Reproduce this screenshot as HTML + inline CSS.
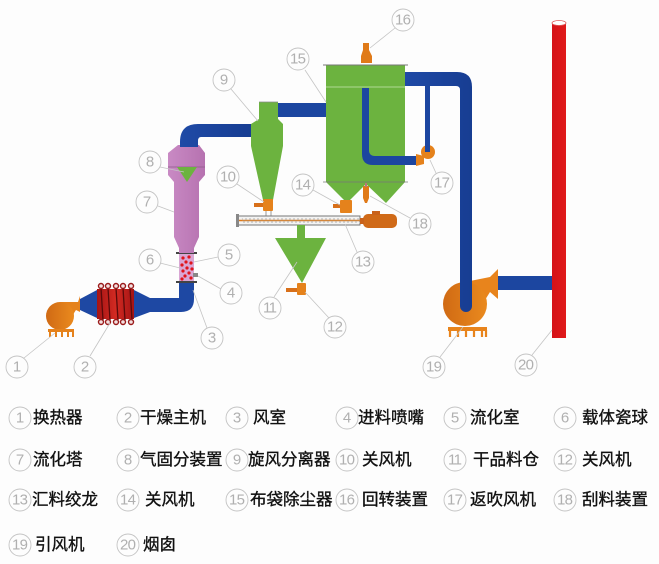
<!DOCTYPE html>
<html><head><meta charset="utf-8"><style>
html,body{margin:0;padding:0;background:#fdfdfd;}
svg{display:block;}
.lc{fill:none;stroke:#c4c4c4;stroke-width:0.9;}
.ln{stroke:#c4c4c4;stroke-width:0.8;}
.nt{font-family:"Liberation Sans",sans-serif;font-size:15px;fill:#b0b0b0;text-anchor:middle;dominant-baseline:central;}
.lt{font-family:"Liberation Sans","Noto Sans CJK SC",sans-serif;font-size:16.5px;fill:#111;stroke:#111;stroke-width:0.35;dominant-baseline:central;}
</style></head><body>
<svg width="659" height="564" viewBox="0 0 659 564" xmlns="http://www.w3.org/2000/svg">
<defs>
<linearGradient id="blu" x1="0" y1="0" x2="1" y2="0"><stop offset="0" stop-color="#1f4aa6"/><stop offset="1" stop-color="#173d92"/></linearGradient>
<linearGradient id="pink" x1="0" y1="0" x2="1" y2="0"><stop offset="0" stop-color="#c98ac4"/><stop offset="1" stop-color="#b672b0"/></linearGradient>
<linearGradient id="ora" x1="0" y1="0" x2="1" y2="0"><stop offset="0" stop-color="#d06a14"/><stop offset="1" stop-color="#ea8a1e"/></linearGradient>
<linearGradient id="hx" x1="0" y1="0" x2="1" y2="0"><stop offset="0" stop-color="#a51414"/><stop offset="0.5" stop-color="#d22a22"/><stop offset="1" stop-color="#a51414"/></linearGradient>
<linearGradient id="chim" x1="0" y1="0" x2="1" y2="0"><stop offset="0" stop-color="#d51218"/><stop offset="1" stop-color="#e01a1a"/></linearGradient>
</defs>
<rect width="659" height="564" fill="#fdfdfd"/>

<!-- Fan 1 -->
<path d="M60,302 L78,302 L80,296 L80,312 L76,310 Q73,314 72,318 Z" fill="#e5821c"/>
<circle cx="60" cy="316" r="14" fill="url(#ora)"/>
<rect x="48" y="329" width="26" height="3" fill="#e5821c"/>
<path d="M50,332v5M56,332v5M62,332v5M68,332v5M73,332v5" stroke="#e5821c" stroke-width="2"/>

<!-- blue cones -->
<polygon points="80,299 97,290 97,318 80,310" fill="#1e48a3"/>
<polygon points="134,290 150,298 150,312 134,318" fill="#1e48a3"/>
<!-- heat exchanger -->
<rect x="97" y="289" width="37" height="30" fill="url(#hx)"/>
<g stroke="#5a0a0a" stroke-width="1.3">
<line x1="101" y1="288" x2="103" y2="320"/><line x1="108" y1="288" x2="110" y2="320"/><line x1="116" y1="288" x2="118" y2="320"/><line x1="123" y1="288" x2="125" y2="320"/><line x1="130" y1="288" x2="132" y2="320"/>
</g>
<g fill="#f3e0e0" stroke="#9a1a1a" stroke-width="1.4">
<circle cx="101" cy="286" r="2.5"/><circle cx="108" cy="286" r="2.5"/><circle cx="116" cy="286" r="2.5"/><circle cx="123" cy="286" r="2.5"/><circle cx="131" cy="286" r="2.5"/>
<circle cx="101" cy="322" r="2.5"/><circle cx="108" cy="322" r="2.5"/><circle cx="116" cy="322" r="2.5"/><circle cx="123" cy="322" r="2.5"/><circle cx="131" cy="322" r="2.5"/>
</g>

<!-- blue pipe to wind chamber -->
<path d="M150,298 L179,298 L179,282 L194,282 L194,299 Q194,312 181,312 L150,312 Z" fill="#1e48a3"/>
<!-- chamber with balls -->
<rect x="179" y="253" width="15" height="29" fill="#d9a6d4"/>
<g fill="#e0141c">
<circle cx="183" cy="258" r="1.6"/><circle cx="189" cy="257" r="1.6"/><circle cx="186" cy="262" r="1.6"/><circle cx="191" cy="263" r="1.6"/><circle cx="182" cy="265" r="1.6"/><circle cx="187" cy="268" r="1.6"/><circle cx="192" cy="269" r="1.6"/><circle cx="183" cy="271" r="1.6"/><circle cx="189" cy="273" r="1.6"/><circle cx="185" cy="276" r="1.6"/><circle cx="191" cy="278" r="1.6"/><circle cx="182" cy="279" r="1.6"/>
</g>
<rect x="176" y="252" width="21" height="2" fill="#444"/>
<rect x="176" y="281" width="21" height="2" fill="#444"/>
<rect x="193" y="273" width="5" height="4" fill="#888"/>

<!-- tower 7 -->
<polygon points="178,145 199,145 205,153 205,175 199,182 199,237 194,248 194,253 179,253 179,248 174,237 174,182 168,175 168,153" fill="url(#pink)"/>
<line x1="168" y1="167" x2="205" y2="167" stroke="#8e5a8a" stroke-width="0.8"/>
<polygon points="177,167 197,167 187,182" fill="#6cb33f"/>
<!-- pipe tower->cyclone -->
<path d="M180,147 L180,142 Q180,124 198,124 L252,124 L252,137 L201,137 Q198,137 198,141 L198,147 Z" fill="url(#blu)"/>

<!-- cyclone 9 -->
<path d="M259,102 L278,102 L278,119 L283,124 L283,146 L273,200 L263,200 L251,146 L251,124 L259,119 Z" fill="#6cb33f"/>
<line x1="259" y1="102" x2="278" y2="102" stroke="#888" stroke-width="0.8"/>
<!-- pipe cyclone->filter -->
<rect x="278" y="103" width="48" height="14" fill="#1c46a0"/>
<!-- valve 10 -->
<rect x="263" y="199" width="10" height="12" rx="1" fill="#e5821c"/>
<rect x="254" y="203" width="9" height="4" fill="#d8701a"/>
<path d="M266,211v5M271,211v5" stroke="#999" stroke-width="1"/>

<!-- screw conveyor -->
<rect x="238" y="216" width="122" height="9" fill="#f3f3f3" stroke="#777" stroke-width="1"/>
<rect x="236" y="214" width="3" height="13" fill="#888"/>
<line x1="239" y1="220.5" x2="362" y2="220.5" stroke="#e07a18" stroke-width="1.5"/>
<path d="M242,218 l2,5 l2,-5 l2,5 l2,-5 l2,5 l2,-5 l2,5 l2,-5 l2,5 l2,-5 l2,5 l2,-5 l2,5 l2,-5 l2,5 l2,-5 l2,5 l2,-5 l2,5 l2,-5 l2,5 l2,-5 l2,5 l2,-5 l2,5 l2,-5 l2,5 l2,-5 l2,5 l2,-5 l2,5 l2,-5 l2,5 l2,-5 l2,5 l2,-5 l2,5 l2,-5 l2,5 l2,-5 l2,5 l2,-5 l2,5 l2,-5 l2,5 l2,-5 l2,5 l2,-5 l2,5 l2,-5 l2,5 l2,-5 l2,5 l2,-5 l2,5 l2,-5 l2,5 l2,-5 l2,5 l2,-5 l2,5 l2,-5 l2,5" fill="none" stroke="#aaa" stroke-width="0.5"/>
<!-- motor -->
<rect x="363" y="214" width="34" height="14" rx="5" fill="#d06a18"/>
<rect x="372" y="211" width="8" height="4" fill="#c9621a"/>
<rect x="360" y="218" width="4" height="6" fill="#c9621a"/>

<!-- hopper 11 -->
<rect x="297" y="225" width="8" height="13" fill="#6cb33f"/>
<polygon points="275,238 326,238 302,283" fill="#6cb33f"/>
<rect x="297" y="283" width="9" height="12" rx="1" fill="#e5821c"/>
<rect x="286" y="288" width="11" height="4" fill="#d8701a"/>

<!-- bag filter 15 -->
<path d="M326,65 L405,65 L405,182 L386,203 L366,184 L347,203 L326,182 Z" fill="#6cb33f"/>
<line x1="323" y1="65" x2="408" y2="65" stroke="#777" stroke-width="1"/>
<line x1="326" y1="87" x2="405" y2="87" stroke="#c8e6b0" stroke-width="0.8"/>
<line x1="323" y1="182" x2="408" y2="182" stroke="#777" stroke-width="0.8"/>
<!-- rotary 16 -->
<path d="M363,43 L369,43 L369,50 L372,56 L372,63 L361,63 L361,56 L363,50 Z" fill="#e07a18"/>
<!-- valve 14 -->
<rect x="340" y="200" width="12" height="13" rx="1" fill="#e5821c"/>
<rect x="333" y="204" width="7" height="4" fill="#d8701a"/>
<!-- scraper 18 -->
<path d="M363,186 L369,186 L369,198 L367,203 L365,203 L363,198 Z" fill="#e07a18"/>
<rect x="365" y="183" width="2" height="4" fill="#b77"/>
<!-- inner return pipe -->
<path d="M362,88 L369,88 L369,150 Q369,156 375,156 L418,156 L418,165 L373,165 Q362,165 362,154 Z" fill="#1c46a0"/>
<!-- fan 17 -->
<circle cx="428" cy="152" r="7" fill="#e5821c"/>
<polygon points="416,154 424,156 424,164 416,166" fill="#e5821c"/>
<rect x="425" y="86" width="5" height="66" fill="#1c46a0"/>

<!-- fan 19 -->
<path d="M465,282 L490,277 L498,269 L498,299 L490,292 L485,300 Z" fill="#e8841c"/>
<circle cx="465" cy="304" r="22" fill="url(#ora)"/>
<rect x="448" y="327" width="39" height="4" fill="#e8841c"/>
<path d="M450,330v7M458,330v7M466,330v7M474,330v7M482,330v7M486,330v7" stroke="#e8841c" stroke-width="2.2"/>
<!-- main pipe -->
<path d="M405,72 L457,72 Q472,72 472,87 L472,306 A6,6 0 0 1 460,306 L460,90 Q460,86 456,86 L405,86 Z" fill="url(#blu)"/>
<!-- pipe fan->chimney -->
<rect x="498" y="276" width="54" height="14" fill="#1c46a0"/>
<!-- chimney -->
<rect x="552" y="23" width="14" height="315" fill="url(#chim)"/>
<ellipse cx="559" cy="23" rx="7" ry="2.5" fill="#fff" stroke="#d55" stroke-width="0.8"/>

<!-- leader lines -->
<g class="ln">
<line x1="24" y1="358" x2="55" y2="333"/>
<line x1="90" y1="356" x2="110" y2="323"/>
<line x1="207" y1="328" x2="193" y2="290"/>
<line x1="221" y1="289" x2="198" y2="276"/>
<line x1="218" y1="257" x2="194" y2="262"/>
<line x1="160" y1="263" x2="180" y2="268"/>
<line x1="158" y1="206" x2="174" y2="212"/>
<line x1="160" y1="167" x2="184" y2="172"/>
<line x1="231" y1="89" x2="258" y2="121"/>
<line x1="237" y1="184" x2="264" y2="202"/>
<line x1="274" y1="297" x2="297" y2="262"/>
<line x1="329" y1="318" x2="305" y2="292"/>
<line x1="357" y1="252" x2="345" y2="224"/>
<line x1="313" y1="190" x2="340" y2="205"/>
<line x1="305" y1="70" x2="326" y2="102"/>
<line x1="395" y1="28" x2="370" y2="48"/>
<line x1="436" y1="173" x2="430" y2="160"/>
<line x1="410" y1="218" x2="370" y2="196"/>
<line x1="440" y1="357" x2="463" y2="327"/>
<line x1="532" y1="355" x2="552" y2="330"/>
</g>
<!-- label circles -->
<g>
<circle class="lc" cx="17" cy="367" r="11"/><text class="nt" x="17" y="367">1</text>
<circle class="lc" cx="85" cy="367" r="11"/><text class="nt" x="85" y="367">2</text>
<circle class="lc" cx="212" cy="338" r="11"/><text class="nt" x="212" y="338">3</text>
<circle class="lc" cx="231" cy="293" r="11"/><text class="nt" x="231" y="293">4</text>
<circle class="lc" cx="229" cy="255" r="11"/><text class="nt" x="229" y="255">5</text>
<circle class="lc" cx="150" cy="260" r="11"/><text class="nt" x="150" y="260">6</text>
<circle class="lc" cx="147" cy="202" r="11"/><text class="nt" x="147" y="202">7</text>
<circle class="lc" cx="150" cy="162" r="11"/><text class="nt" x="150" y="162">8</text>
<circle class="lc" cx="224" cy="80" r="11"/><text class="nt" x="224" y="80">9</text>
<circle class="lc" cx="228" cy="177" r="11"/><text class="nt" x="228" y="177" textLength="16">10</text>
<circle class="lc" cx="270" cy="308" r="11"/><text class="nt" x="270" y="308" textLength="14">11</text>
<circle class="lc" cx="335" cy="327" r="11"/><text class="nt" x="335" y="327" textLength="16">12</text>
<circle class="lc" cx="363" cy="262" r="11"/><text class="nt" x="363" y="262" textLength="16">13</text>
<circle class="lc" cx="303" cy="185" r="11"/><text class="nt" x="303" y="185" textLength="16">14</text>
<circle class="lc" cx="298" cy="59" r="11"/><text class="nt" x="298" y="59" textLength="16">15</text>
<circle class="lc" cx="403" cy="20" r="11"/><text class="nt" x="403" y="20" textLength="16">16</text>
<circle class="lc" cx="442" cy="183" r="11"/><text class="nt" x="442" y="183" textLength="16">17</text>
<circle class="lc" cx="420" cy="224" r="11"/><text class="nt" x="420" y="224" textLength="16">18</text>
<circle class="lc" cx="434" cy="367" r="11"/><text class="nt" x="434" y="367" textLength="16">19</text>
<circle class="lc" cx="526" cy="365" r="11"/><text class="nt" x="526" y="365" textLength="16">20</text>
</g>

<!-- legend -->
<g>
<circle class="lc" cx="20" cy="418" r="11"/><text class="nt" x="20" y="418">1</text><text class="lt" x="33" y="418">换热器</text>
<circle class="lc" cx="128" cy="418" r="11"/><text class="nt" x="128" y="418">2</text><text class="lt" x="140" y="418">干燥主机</text>
<circle class="lc" cx="237" cy="418" r="11"/><text class="nt" x="237" y="418">3</text><text class="lt" x="253" y="418">风室</text>
<circle class="lc" cx="347" cy="418" r="11"/><text class="nt" x="347" y="418">4</text><text class="lt" x="358" y="418">进料喷嘴</text>
<circle class="lc" cx="455" cy="418" r="11"/><text class="nt" x="455" y="418">5</text><text class="lt" x="470" y="418">流化室</text>
<circle class="lc" cx="565" cy="418" r="11"/><text class="nt" x="565" y="418">6</text><text class="lt" x="582" y="418">载体瓷球</text>

<circle class="lc" cx="20" cy="460" r="11"/><text class="nt" x="20" y="460">7</text><text class="lt" x="33" y="460">流化塔</text>
<circle class="lc" cx="128" cy="460" r="11"/><text class="nt" x="128" y="460">8</text><text class="lt" x="140" y="460">气固分装置</text>
<circle class="lc" cx="237" cy="460" r="11"/><text class="nt" x="237" y="460">9</text><text class="lt" x="248" y="460">旋风分离器</text>
<circle class="lc" cx="347" cy="460" r="11"/><text class="nt" x="347" y="460" textLength="16">10</text><text class="lt" x="362" y="460">关风机</text>
<circle class="lc" cx="455" cy="460" r="11"/><text class="nt" x="455" y="460" textLength="14">11</text><text class="lt" x="473" y="460">干品料仓</text>
<circle class="lc" cx="565" cy="460" r="11"/><text class="nt" x="565" y="460" textLength="16">12</text><text class="lt" x="582" y="460">关风机</text>

<circle class="lc" cx="20" cy="500" r="11"/><text class="nt" x="20" y="500" textLength="16">13</text><text class="lt" x="32" y="500">汇料绞龙</text>
<circle class="lc" cx="128" cy="500" r="11"/><text class="nt" x="128" y="500" textLength="16">14</text><text class="lt" x="145" y="500">关风机</text>
<circle class="lc" cx="237" cy="500" r="11"/><text class="nt" x="237" y="500" textLength="16">15</text><text class="lt" x="250" y="500">布袋除尘器</text>
<circle class="lc" cx="347" cy="500" r="11"/><text class="nt" x="347" y="500" textLength="16">16</text><text class="lt" x="362" y="500">回转装置</text>
<circle class="lc" cx="455" cy="500" r="11"/><text class="nt" x="455" y="500" textLength="16">17</text><text class="lt" x="470" y="500">返吹风机</text>
<circle class="lc" cx="565" cy="500" r="11"/><text class="nt" x="565" y="500" textLength="16">18</text><text class="lt" x="582" y="500">刮料装置</text>

<circle class="lc" cx="20" cy="545" r="11"/><text class="nt" x="20" y="545" textLength="16">19</text><text class="lt" x="35" y="545">引风机</text>
<circle class="lc" cx="128" cy="545" r="11"/><text class="nt" x="128" y="545" textLength="16">20</text><text class="lt" x="143" y="545">烟囱</text>
</g>
</svg>
</body></html>
